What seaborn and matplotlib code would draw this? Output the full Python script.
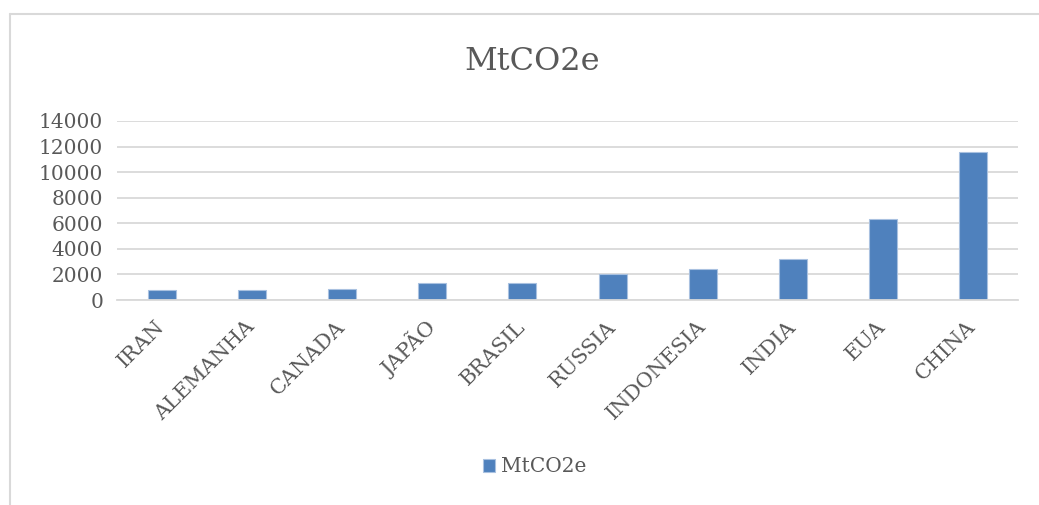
import pandas as pd
import matplotlib.pyplot as plt
import seaborn as sns
from matplotlib.lines import Line2D

paises = ["IRAN", "ALEMANHA", "CANADA", "JAPÃO", "BRASIL",
          "RUSSIA", "INDONESIA", "INDIA", "EUA", "CHINA"]
mtco2e = [790, 790, 860, 1300, 1350, 2010, 2450, 3200, 6310, 11550]
yticks = [0, 2000, 4000, 6000, 8000, 10000, 12000, 14000]

data = pd.DataFrame({"Pais": paises, "MtCO2e": mtco2e})

sns.set_style("white")
plt.rcParams['font.family'] = ['DejaVu Serif']
cinza = '#595959'
azul = '#4F81BD'

fig = plt.figure(figsize=(10.39, 5.05), dpi=100)
ax = fig.add_axes([117/1039, 1-300/505, 901/1039, 179/505])

sns.barplot(ax=ax, data=data, x="Pais", y="MtCO2e", color=azul, width=0.31,
            edgecolor='#a9c1e0', linewidth=0.8, saturation=1, label="MtCO2e")

ax.set_xlim(-0.5, len(paises) - 0.5)
ax.set_ylim(0, 14000)
ax.set_yticks(yticks)
ax.set_yticklabels([str(v) for v in yticks], fontsize=14.5, color=cinza)
ax.set_xticks(range(len(paises)))
ax.set_xticklabels(paises, rotation=45, ha='right', va='center',
                   rotation_mode='anchor', fontsize=15, color=cinza)
ax.tick_params(axis='x', length=0, pad=17)
ax.tick_params(axis='y', length=0, pad=10)
ax.set_xlabel("")
ax.set_ylabel("")
ax.grid(axis='y', color='#d9d9d9', linewidth=1.3)
ax.set_axisbelow(True)
for s in ['top', 'right', 'left']:
    ax.spines[s].set_visible(False)
ax.spines['bottom'].set_color('#d9d9d9')
ax.spines['bottom'].set_linewidth(1.3)

fig.text(532/1039, 1-62/505, "MtCO2e", ha='center', va='center',
         fontsize=23, color=cinza)

handles, labels = ax.get_legend_handles_labels()
if ax.get_legend() is not None:
    ax.get_legend().remove()
leg = fig.legend(handles, labels, loc='center',
                 bbox_to_anchor=(535/1039, 1-467/505),
                 frameon=False, fontsize=14.5, handlelength=0.6,
                 handleheight=0.6, handletextpad=0.3)
for t in leg.get_texts():
    t.set_color(cinza)

# chart area border (only top and left edges fall inside the picture)
fig.add_artist(Line2D([9.5/1039, 9.5/1039], [-0.02, 1-13.5/505],
                      transform=fig.transFigure, color='#d9d9d9', linewidth=1.5))
fig.add_artist(Line2D([9.5/1039, 1.02], [1-13.5/505, 1-13.5/505],
                      transform=fig.transFigure, color='#d9d9d9', linewidth=1.5))

fig.savefig("out.png", dpi=100)
